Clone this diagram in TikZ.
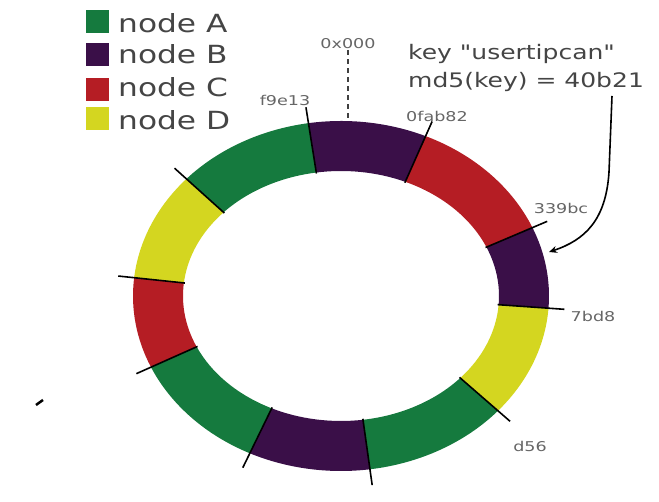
\documentclass[tikz,border=0pt]{standalone}
\usepackage{fontspec}
\setmainfont{DejaVu Sans}
\newfontfamily\keyfont{DejaVu Sans}
\usepackage{graphicx}
\usetikzlibrary{arrows.meta}
\definecolor{nodeA}{HTML}{157A3E}
\definecolor{nodeB}{HTML}{3A0F48}
\definecolor{nodeC}{HTML}{B51D24}
\definecolor{nodeD}{HTML}{D4D620}
\definecolor{txt}{HTML}{454545}
\definecolor{lbl}{HTML}{666666}
\tikzset{
  legbox/.style={minimum width=23pt,minimum height=23pt,inner sep=0pt},
  legtext/.style={anchor=base west,inner sep=0pt,text=txt,font=\fontsize{25}{28}\selectfont},
  hashlbl/.style={inner sep=1pt,text=lbl,font=\fontsize{13.5}{16}\selectfont},
  tickline/.style={black,line width=1.6pt},
  keytext/.style={anchor=base west,inner sep=0pt,text=txt,font=\keyfont\fontsize{20}{24}\selectfont}
}
\begin{document}
\begin{tikzpicture}[x=1pt,y=1pt]
\useasboundingbox (0,0) rectangle (659,502);
\coordinate (c) at (341,206);
% ring segments
\foreach \a/\b/\col in {-4/23/nodeB,23/66/nodeC,66/99/nodeB,99/138/nodeA,138/174/nodeD,174/204/nodeC,204/244/nodeA,244/278/nodeB,278/319/nodeA,319/356/nodeD}{
  \fill[\col] ([shift={(\a:208 and 175)}]c) arc[start angle=\a,end angle=\b,x radius=208,y radius=175]
     -- ([shift={(\b:158 and 125)}]c) arc[start angle=\b,end angle=\a,x radius=158,y radius=125] -- cycle;
}
% boundaries with ticks
\foreach \t in {-4,23,66,99,138,174,204,244,278,319}{
  \draw[tickline] ([shift={(\t:157 and 124)}]c) -- ([shift={(\t:224 and 191)}]c);
}
% hash labels
\node[hashlbl] (h0) at (348,458) {\scalebox{1.3}[1]{0x000}};
\coordinate (h0end) at (348,380);
\draw[black!75,line width=1.8pt,dash pattern=on 5pt off 4pt] (h0.south) -- (h0end);
\node[hashlbl] (h1) at (285,402) {\scalebox{1.3}[1]{f9e13}};
\node[hashlbl] (h2) at (437,386) {\scalebox{1.3}[1]{0fab82}};
\node[hashlbl] (h3) at (561,294) {\scalebox{1.3}[1]{339bc}};
\node[hashlbl] (h4) at (593,186) {\scalebox{1.3}[1]{7bd8}};
\node[hashlbl] (h5) at (530,56) {\scalebox{1.3}[1]{d56}};
% legend
\node[legbox,fill=nodeA] (la) at (97,480) {};
\node[legbox,fill=nodeB] (lb) at (97,447) {};
\node[legbox,fill=nodeC] (lc) at (97,412) {};
\node[legbox,fill=nodeD] (ld) at (97,383) {};
\node[legtext] (ta) at (118,469) {\scalebox{1.25}[1]{node A}};
\node[legtext] (tb) at (118,438) {\scalebox{1.25}[1]{node B}};
\node[legtext] (tc) at (118,405) {\scalebox{1.25}[1]{node C}};
\node[legtext] (td) at (118,372) {\scalebox{1.25}[1]{node D}};
% key annotation
\node[keytext] (key) at (408,442) {\scalebox{1.25}[1]{key "usertipcan"}};
\node[keytext] (md5) at (408,414) {\scalebox{1.25}[1]{md5(key) = 40b21}};
\coordinate (arrs) at (612,406);
\coordinate (arre) at (549,250);
\draw[black,line width=1.6pt,-{Stealth[length=8pt,width=7pt]}] (arrs) -- (609,330) .. controls (606,282) and (585,262) .. (arre);
% stray mark
\draw[black,line width=2.5pt] (36,97) -- (43,102);
\end{tikzpicture}
\end{document}
